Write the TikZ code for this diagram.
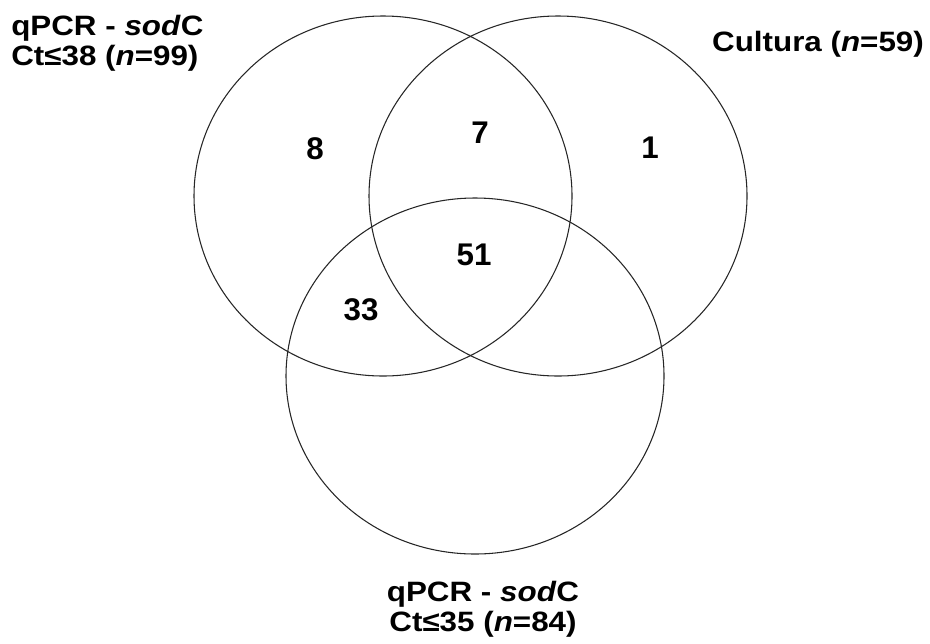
\documentclass[tikz,border=0pt]{standalone}
\usepackage{fontspec}
\setmainfont{Liberation Sans}
\newfontfamily\labelfont[FakeStretch=1.12]{Liberation Sans}
\usepackage{tikz}
\usetikzlibrary{positioning}

\begin{document}
\begin{tikzpicture}[x=0.75pt,y=-0.75pt,font=\fontsize{23.5}{22}\selectfont\bfseries,
    set/.style={draw=black!85, line width=0.8pt},
    count/.style={inner sep=0pt},
    setlabel/.style={inner sep=0pt, align=center,
        font=\labelfont\fontsize{21}{22.5}\selectfont\bfseries}]
   \useasboundingbox (0,0) rectangle (930,643);
   % the three sets
   \draw[set] (383,196) ellipse [x radius=189, y radius=180];
   \draw[set] (558,196) ellipse [x radius=189, y radius=180];
   \draw[set] (475,376) ellipse [x radius=189, y radius=178];
   % counts
   \node[count] (only38)   at (315,149) {8};
   \node[count] (c38cult)  at (480,133) {7};
   \node[count] (onlycult) at (650,148) {1};
   \node[count] (all)      at (474,255) {51};
   \node[count] (c38c35)   at (361,310) {33};
   % set labels
   \node[setlabel, align=left, anchor=north west] (lab38) at (11,15)
        {qPCR - \textit{sod}C\\Ct≤38 (\textit{n}=99)};
   \node[setlabel] (labcult) at (818,44) {Cultura (\textit{n}=59)};
   \node[setlabel, anchor=north] (lab35) at (483,581)
        {qPCR - \textit{sod}C\\Ct≤35 (\textit{n}=84)};
\end{tikzpicture}
\end{document}
